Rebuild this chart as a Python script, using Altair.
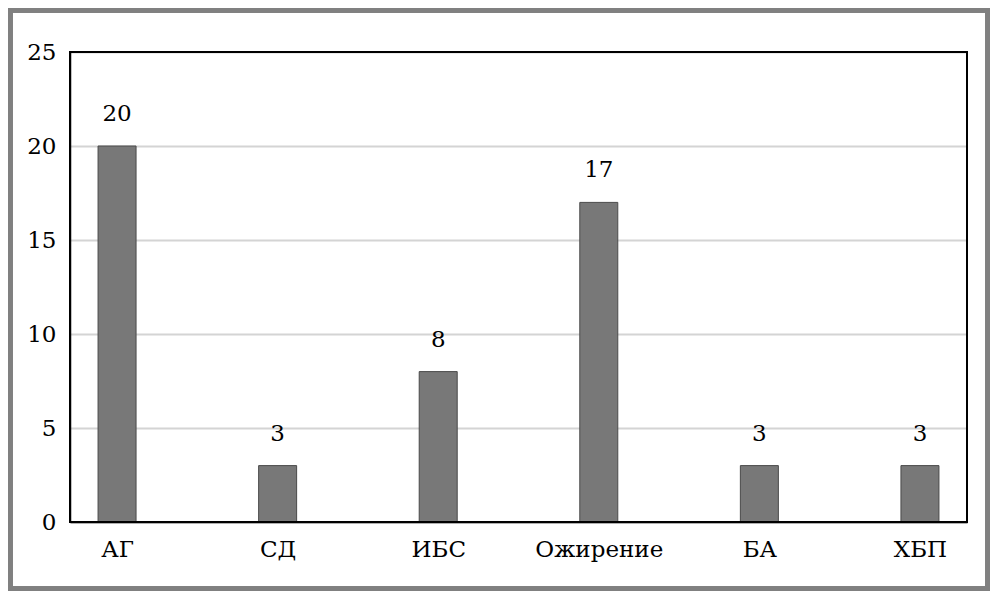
import altair as alt
import pandas as pd

categories = ["АГ", "СД", "ИБС", "Ожирение", "БА", "ХБП"]
values = [20, 3, 8, 17, 3, 3]

df = pd.DataFrame({"cat": categories, "val": values})
FONT = "DejaVu Serif"
FS = 23

x_enc = alt.X("cat:N", sort=categories, title=None,
              scale=alt.Scale(type="point", padding=0.293),
              axis=alt.Axis(labelAngle=0, labelFontSize=FS, labelFont=FONT, labelColor="black",
                            domainColor="black", domainWidth=1.5, ticks=False, labelPadding=16,
                            grid=False))
y_enc = alt.Y("val:Q", title=None,
              scale=alt.Scale(domain=[0, 25], nice=False),
              axis=alt.Axis(values=[0, 5, 10, 15, 20, 25], labelFontSize=FS, labelFont=FONT,
                            labelColor="black", domainColor="black", domainWidth=1.5,
                            ticks=False, labelPadding=14, gridColor="#d4d4d4", gridWidth=2))

bars = alt.Chart(df).mark_bar(size=38, color="#787878", stroke="#4a4a4a", strokeWidth=1).encode(
    x=x_enc, y=y_enc)

labels = alt.Chart(df).mark_text(font=FONT, fontSize=FS, color="black", dy=-20, baseline="bottom").encode(
    x=alt.X("cat:N", sort=categories), y="val:Q", text="val:Q")

border = alt.Chart(df).mark_rect(fill=None, stroke="black", strokeWidth=2).encode(
    x=alt.value(0), x2=alt.value(897), y=alt.value(0), y2=alt.value(470))

frame = alt.Chart(df).mark_rect(fill=None, stroke="#808080", strokeWidth=5).encode(
    x=alt.value(-60), x2=alt.value(918), y=alt.value(-42), y2=alt.value(537))

chart = alt.layer(bars, labels, border, frame).properties(
    width=897, height=470,
    autosize=alt.AutoSizeParams(type="none"),
    padding={"left": 62, "top": 44, "right": 23, "bottom": 69},
).configure_view(stroke=None).configure(background="white")

chart.save("out.html", embed_options={"renderer": "svg", "actions": False})
